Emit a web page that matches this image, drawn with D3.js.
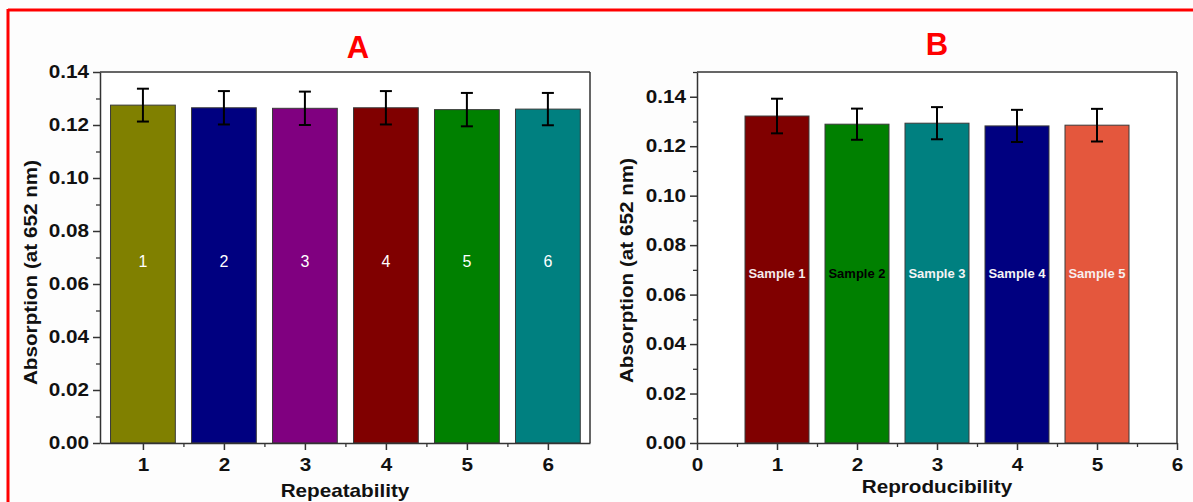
<!DOCTYPE html>
<html>
<head>
<meta charset="utf-8">
<script src="https://cdn.jsdelivr.net/npm/d3@7"></script>
<style>
  html, body { margin: 0; padding: 0; background: #fdfdfd; }
  svg { display: block; }
  text { font-family: "Liberation Sans", Arial, sans-serif; }
  .wide { transform-box: fill-box; transform-origin: center; transform: scaleX(1.15); }
  .ytk text { transform-box: fill-box; transform-origin: right center; transform: scaleX(1.15); }
  .xtk text { transform-box: fill-box; transform-origin: center; transform: scaleX(1.15); }
</style>
</head>
<body>
<svg id="chart" width="1193" height="502"></svg>
<script>
// ---------- data ----------
const catsA = [1, 2, 3, 4, 5, 6];
const valsA = [0.1275, 0.1265, 0.1263, 0.1265, 0.1258, 0.1260];
const errA = [0.0062, 0.0063, 0.0063, 0.0063, 0.0063, 0.0061];
const labelsA = ["1", "2", "3", "4", "5", "6"];
const colorsA = ["#808000", "#000080", "#800080", "#800000", "#008000", "#008080"];
const labelColorsA = ["#ffffff", "#ffffff", "#ffffff", "#ffffff", "#ffffff", "#ffffff"];

const catsB = [1, 2, 3, 4, 5];
const valsB = [0.1322, 0.1289, 0.1293, 0.1282, 0.1285];
const errB = [0.0070, 0.0063, 0.0065, 0.0065, 0.0066];
const labelsB = ["Sample 1", "Sample 2", "Sample 3", "Sample 4", "Sample 5"];
const colorsB = ["#800000", "#008000", "#008080", "#000080", "#e4573d"];
const labelColorsB = ["#f4eaea", "#000000", "#f4f4f4", "#f4f4f4", "#f7eeee"];

const yTicks = [0, 0.02, 0.04, 0.06, 0.08, 0.10, 0.12, 0.14];
const xTicksA = [1, 2, 3, 4, 5, 6];
const xTicksB = [0, 1, 2, 3, 4, 5, 6];

const svg = d3.select("#chart");

// red frame
svg.append("line").attr("x1", 8).attr("x2", 1193).attr("y1", 10).attr("y2", 10)
  .attr("stroke", "#ff0000").attr("stroke-width", 3);
svg.append("line").attr("x1", 8).attr("x2", 8).attr("y1", 9).attr("y2", 502)
  .attr("stroke", "#ff0000").attr("stroke-width", 3);

function panel(o) {
  const g = svg.append("g");
  const x = d3.scaleLinear().domain(o.xDomain).range([o.left, o.right]);
  const y = d3.scaleLinear().domain(o.yDomain).range([o.bottom, o.top]);

  g.append("rect").attr("x", o.left).attr("y", o.top)
    .attr("width", o.right - o.left).attr("height", o.bottom - o.top)
    .attr("fill", "#ffffff");

  // bars
  const bw = x(0.8) - x(0);
  g.selectAll("rect.bar").data(o.cats).join("rect").attr("class", "bar")
    .attr("x", (d) => x(d) - bw / 2)
    .attr("y", (d, i) => y(o.vals[i]))
    .attr("width", bw)
    .attr("height", (d, i) => y(0) - y(o.vals[i]))
    .attr("fill", (d, i) => o.colors[i])
    .attr("stroke", "#3a3a3a").attr("stroke-width", 1);

  // error bars
  const eg = g.append("g").attr("stroke", "#000").attr("stroke-width", 2);
  o.cats.forEach((d, i) => {
    const cx = x(d), hi = y(o.vals[i] + o.errs[i]), lo = y(o.vals[i] - o.errs[i]);
    eg.append("line").attr("x1", cx).attr("x2", cx).attr("y1", hi).attr("y2", lo);
    eg.append("line").attr("x1", cx - 6).attr("x2", cx + 6).attr("y1", hi).attr("y2", hi);
    eg.append("line").attr("x1", cx - 6).attr("x2", cx + 6).attr("y1", lo).attr("y2", lo);
  });

  // bar labels
  g.selectAll("text.bl").data(o.cats).join("text").attr("class", "bl")
    .attr("x", (d) => x(d)).attr("y", y(0.068))
    .attr("text-anchor", "middle").attr("dominant-baseline", "middle")
    .attr("font-size", o.labelSize).attr("font-weight", o.labelWeight)
    .attr("fill", (d, i) => o.labelColors[i])
    .text((d, i) => o.labels[i]);

  // frame box (top & right)
  g.append("line").attr("x1", o.left).attr("x2", o.right).attr("y1", o.top).attr("y2", o.top)
    .attr("stroke", "#333").attr("stroke-width", 1.5);
  g.append("line").attr("x1", o.right).attr("x2", o.right).attr("y1", o.top).attr("y2", o.bottom)
    .attr("stroke", "#333").attr("stroke-width", 1.5);

  // minor ticks
  const yMinor = d3.range(0.01, o.yDomain[1] + 1e-9, 0.02);
  g.append("g").attr("transform", `translate(${o.left},0)`)
    .call(d3.axisLeft(y).tickValues(yMinor).tickSize(4).tickFormat(""))
    .call((s) => s.select(".domain").remove())
    .selectAll("line").attr("stroke", "#333").attr("stroke-width", 1.3);
  g.append("g").attr("transform", `translate(0,${o.bottom})`)
    .call(d3.axisBottom(x).tickValues(o.xMinor).tickSize(4).tickFormat(""))
    .call((s) => s.select(".domain").remove())
    .selectAll("line").attr("stroke", "#333").attr("stroke-width", 1.3);

  // major axes
  const ya = g.append("g").attr("class", "ytk").attr("transform", `translate(${o.left},0)`)
    .call(d3.axisLeft(y).tickValues(yTicks).tickSize(7).tickPadding(4).tickSizeOuter(0)
      .tickFormat(d3.format(".2f")));
  const xa = g.append("g").attr("class", "xtk").attr("transform", `translate(0,${o.bottom})`)
    .call(d3.axisBottom(x).tickValues(o.xTicks).tickSize(7).tickPadding(8).tickSizeOuter(0)
      .tickFormat(d3.format("d")));
  [ya, xa].forEach((a) => {
    a.select(".domain").attr("stroke", "#333").attr("stroke-width", 1.5);
    a.selectAll("line").attr("stroke", "#333").attr("stroke-width", 1.5);
    a.selectAll("text").attr("font-size", 18).attr("font-weight", "bold").attr("fill", "#111")
      .attr("font-family", "Liberation Sans, Arial, sans-serif");
  });

  // title letter
  g.append("text").attr("x", o.titleX).attr("y", o.titleY).attr("text-anchor", "middle")
    .attr("font-family", "Open Sans, sans-serif").attr("font-weight", 700)
    .attr("font-size", 31).attr("fill", "#ff0000").text(o.title);

  // axis titles
  g.append("text").attr("class", "wide").attr("x", (o.left + o.right) / 2).attr("y", o.xTitleY)
    .attr("text-anchor", "middle").attr("font-size", 18).attr("font-weight", "bold")
    .attr("fill", "#111").text(o.xTitle);
  g.append("g").attr("transform", `translate(${o.yTitleX},${(o.top + o.bottom) / 2 + o.yTitleShift}) rotate(-90)`)
    .append("text").attr("class", "wide").attr("text-anchor", "middle")
    .attr("dominant-baseline", "middle").attr("font-size", 18).attr("font-weight", "bold")
    .attr("fill", "#111").text("Absorption (at 652 nm)");
}

panel({
  left: 100, right: 590, top: 72, bottom: 443,
  xDomain: [0.47, 6.52], yDomain: [0, 0.14],
  cats: catsA, vals: valsA, errs: errA, colors: colorsA,
  labels: labelsA, labelColors: labelColorsA, labelSize: 16, labelWeight: "normal",
  xTicks: xTicksA, xMinor: [1.5, 2.5, 3.5, 4.5, 5.5],
  title: "A", titleX: 358, titleY: 58,
  xTitle: "Repeatability", xTitleY: 497, yTitleX: 32, yTitleShift: 15
});

panel({
  left: 697, right: 1177, top: 72, bottom: 443,
  xDomain: [0, 6], yDomain: [0, 0.15],
  cats: catsB, vals: valsB, errs: errB, colors: colorsB,
  labels: labelsB, labelColors: labelColorsB, labelSize: 13, labelWeight: "bold",
  xTicks: xTicksB, xMinor: [0.5, 1.5, 2.5, 3.5, 4.5, 5.5],
  title: "B", titleX: 937, titleY: 55,
  xTitle: "Reproducibility", xTitleY: 493, yTitleX: 628, yTitleShift: 13
});
</script>
</body>
</html>
